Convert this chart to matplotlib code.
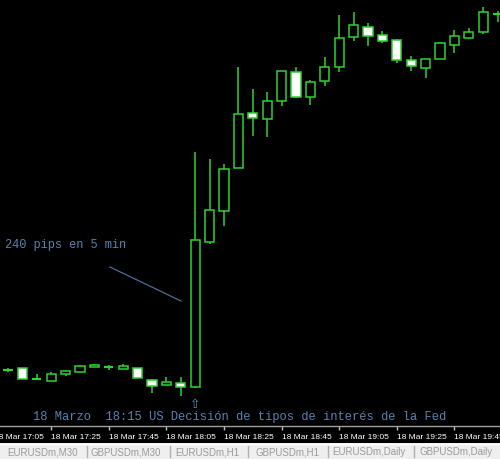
import matplotlib
matplotlib.use("Agg")
import matplotlib.pyplot as plt
import numpy as np

# ---- data (5-minute candles, 18 Mar 17:10 .. 19:59) ----
opens = [1.2929, 1.2931, 1.2920, 1.2918, 1.2925, 1.2927, 1.2932, 1.2932, 1.2930, 1.2931,
         1.2919, 1.2914, 1.2916, 1.2912, 1.3057, 1.3088, 1.3131, 1.3186, 1.3180, 1.3198,
         1.3227, 1.3202, 1.3218, 1.3232, 1.3262, 1.3272, 1.3264, 1.3259, 1.3239, 1.3231,
         1.3240, 1.3254, 1.3261, 1.3267, 1.3285]
closes = [1.2929, 1.2920, 1.2920, 1.2925, 1.2928, 1.2933, 1.2934, 1.2932, 1.2933, 1.2921,
          1.2913, 1.2917, 1.2912, 1.3059, 1.3089, 1.3130, 1.3185, 1.3181, 1.3198, 1.3228,
          1.3202, 1.3217, 1.3232, 1.3261, 1.3274, 1.3263, 1.3258, 1.3239, 1.3233, 1.3240,
          1.3256, 1.3263, 1.3267, 1.3287, 1.3285]
highs = [1.2931, 1.2931, 1.2925, 1.2927, 1.2929, 1.2934, 1.2935, 1.2934, 1.2935, 1.2931,
         1.2920, 1.2922, 1.2922, 1.3147, 1.3140, 1.3135, 1.3232, 1.3210, 1.3207, 1.3228,
         1.3232, 1.3219, 1.3242, 1.3284, 1.3287, 1.3276, 1.3268, 1.3260, 1.3243, 1.3240,
         1.3257, 1.3269, 1.3271, 1.3292, 1.3288]
lows = [1.2927, 1.2920, 1.2920, 1.2918, 1.2923, 1.2927, 1.2932, 1.2929, 1.2930, 1.2921,
        1.2906, 1.2914, 1.2903, 1.2911, 1.3055, 1.3073, 1.3131, 1.3163, 1.3162, 1.3193,
        1.3201, 1.3194, 1.3213, 1.3227, 1.3258, 1.3253, 1.3256, 1.3236, 1.3228, 1.3221,
        1.3240, 1.3246, 1.3261, 1.3265, 1.3277]

tick_positions = [-1, 3, 7, 11, 15, 19, 23, 27, 31]
tick_labels = ["18 Mar 17:05", "18 Mar 17:25", "18 Mar 17:45", "18 Mar 18:05",
               "18 Mar 18:25", "18 Mar 18:45", "18 Mar 19:05", "18 Mar 19:25",
               "18 Mar 19:45"]
tabs = ["EURUSDm,M30", "GBPUSDm,M30", "EURUSDm,H1", "GBPUSDm,H1",
        "EURUSDm,Daily", "GBPUSDm,Daily"]

note_text = "240 pips en 5 min"
event_text = "18 Marzo  18:15 US Decisi\u00f3n de tipos de inter\u00e9s de la Fed"

# ---- figure ----
W, H = 500, 460
fig = plt.figure(figsize=(W / 100, H / 100), dpi=100, facecolor="black")

ax_bottom_px = 427
ax = fig.add_axes([0, (H - ax_bottom_px) / H, 1, ax_bottom_px / H])
ax.set_facecolor("black")

GREEN = "#2fd32f"
n = len(opens)
x = np.arange(n)
o = np.array(opens); c = np.array(closes); h = np.array(highs); l = np.array(lows)

# wicks
ax.vlines(x, l, h, color=GREEN, linewidth=1.1, zorder=1)

bw = 0.64
for i in range(n):
    if abs(c[i] - o[i]) < 1e-9:
        ax.hlines(o[i], i - bw / 2, i + bw / 2, color=GREEN, linewidth=1.6, zorder=2)
    else:
        fill = "black" if c[i] > o[i] else "white"
        ax.bar(i, c[i] - o[i], bottom=o[i], width=bw, color=fill,
               edgecolor=GREEN, linewidth=1.1, zorder=2)

for s in ["top", "left", "right"]:
    ax.spines[s].set_visible(False)
ax.spines["bottom"].set_color("#a0a0a0")
ax.spines["bottom"].set_linewidth(1)
ax.set_yticks([])

# visible ticks via the axis, the first (partly off-screen) label drawn manually
vis = [(p, t) for p, t in zip(tick_positions, tick_labels) if p >= 0]
ax.set_xticks([p for p, _ in vis])
ax.set_xticklabels([t for _, t in vis], fontsize=6, color="white", family="Liberation Sans")
for lab in ax.get_xticklabels():
    lab.set_ha("left")
ax.tick_params(axis="x", direction="out", length=3, width=1, color="#c0c0c0", pad=2)
for p, t in zip(tick_positions, tick_labels):
    if p < 0:
        ax.annotate(t, xy=(p, 0), xycoords=("data", "axes fraction"),
                    xytext=(0, -5), textcoords="offset points", ha="left", va="top",
                    fontsize=6, color="white", family="Liberation Sans",
                    annotation_clip=False)

# axes scaling: pixel x = 8 + 14.4*i ; price = 1.3300 - ypx/10000
ax.set_xlim(-8 / 14.4, (W - 8) / 14.4)
ax.set_ylim(1.3300 - ax_bottom_px / 10000, 1.3300)

# annotations
BLUE = "#5a82ad"
ax.text(-0.2, 1.3055, note_text, family="Liberation Mono", fontsize=8.6,
        color=BLUE, va="center", ha="left")
ax.plot([7.08, 12.01], [1.3032, 1.2998], color="#4f6f95", linewidth=0.9)
ax.text(13, 1.2895, "\u21e7", family="DejaVu Sans", fontsize=9, color="#6a90c0",
        ha="center", va="center")
ax.text(1.73, 1.2883, event_text, family="Liberation Mono", fontsize=8.7,
        color=BLUE, va="center", ha="left")

# tab bar
tab_h = 16
tab_ax = fig.add_axes([0, 0, 1, tab_h / H])
tab_ax.set_facecolor("#efefef")
tab_ax.set_xlim(0, W)
tab_ax.set_ylim(0, tab_h)
tab_ax.set_xticks([]); tab_ax.set_yticks([])
for s in tab_ax.spines.values():
    s.set_visible(False)
tab_ax.axhline(tab_h - 0.5, color="#ffffff", linewidth=1)
tab_centers = [42, 126, 207, 287, 369, 456]
seps = [87, 170, 248, 328, 414]
for t, cx in zip(tabs, tab_centers):
    tab_ax.text(cx, 7.5, t, ha="center", va="center", fontsize=7.0,
                family="Liberation Sans", color="#9a9a9a")
for sx in seps:
    tab_ax.plot([sx, sx], [2, 13], color="#b0b0b0", linewidth=1)

fig.savefig("out.png", dpi=100, facecolor="black")
